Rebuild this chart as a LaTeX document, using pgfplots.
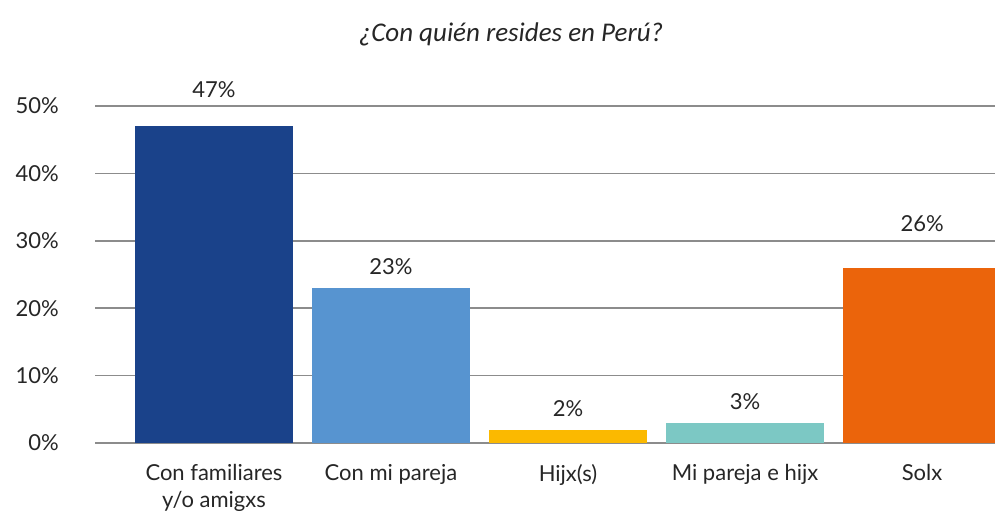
\documentclass[border=0pt]{standalone}
\usepackage{fontspec}
\setmainfont{Lato}
\newfontfamily\titlefont{Carlito}
\usepackage{pgfplots}
\pgfplotsset{compat=1.18}
\definecolor{c1}{HTML}{1A428A}
\definecolor{c2}{HTML}{5794D0}
\definecolor{c3}{HTML}{FBB900}
\definecolor{c4}{HTML}{7CC8C4}
\definecolor{c5}{HTML}{EB640B}
\definecolor{gridc}{HTML}{8C8C8C}
\definecolor{txt}{HTML}{262626}
\begin{document}
\begin{tikzpicture}[x=1bp,y=1bp]
\begin{axis}[
  at={(95bp,73bp)}, anchor=south west,
  scale only axis, width=900bp, height=337bp,
  xmin=-0.672, xmax=4.412, ymin=0, ymax=50,
  axis line style={draw=none},
  major tick length=0pt,
  ymajorgrids, grid style={gridc, line width=1.5bp},
  ytick={0,10,20,30,40,50},
  yticklabels={0\%,10\%,20\%,30\%,40\%,50\%},
  xtick={0,1,2,3,4},
  xticklabels={{Con familiares\\y/o amigxs},{Con mi pareja},{Hijx(s)},{Mi pareja e hijx},{Solx}},
  tick label style={font=\fontsize{22bp}{27bp}\selectfont, text=txt},
  yticklabel style={anchor=east, inner sep=0pt, xshift=-36bp},
  xticklabel style={anchor=north, inner sep=0pt, yshift=-21bp, align=center},
  ybar, bar width=158bp,
  nodes near coords style={font=\fontsize{22bp}{25bp}\selectfont, text=txt, anchor=south, inner sep=0pt, yshift=13bp},
]
\addplot[fill=c1, draw=none, bar shift=0pt, nodes near coords={47\%}, nodes near coords style={yshift=15bp}] coordinates {(0,47)};
\addplot[fill=c2, draw=none, bar shift=0pt, nodes near coords={23\%}] coordinates {(1,23)};
\addplot[fill=c3, draw=none, bar shift=0pt, nodes near coords={2\%}] coordinates {(2,2)};
\addplot[fill=c4, draw=none, bar shift=0pt, nodes near coords={3\%}] coordinates {(3,3)};
\addplot[fill=c5, draw=none, bar shift=0pt, nodes near coords={26\%}, nodes near coords style={yshift=23bp}] coordinates {(4,26)};
\end{axis}
\node[anchor=base, text=txt] at (511,474) {\titlefont\itshape\fontsize{27bp}{32bp}\selectfont ¿Con quién resides en Perú?};
\pgfresetboundingbox
\path[use as bounding box] (0,0) rectangle (995,516);
\end{tikzpicture}
\end{document}
